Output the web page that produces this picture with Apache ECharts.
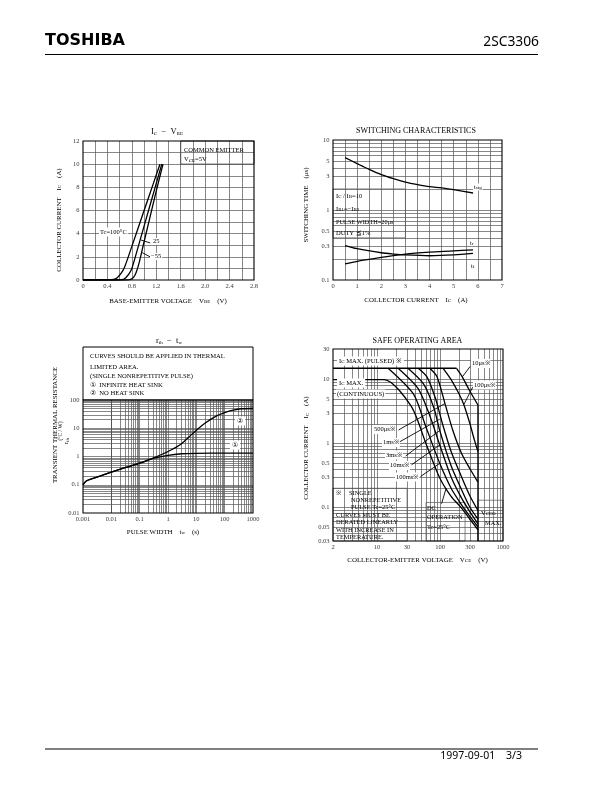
<!DOCTYPE html>
<html><head><meta charset="utf-8">
<script src="https://cdn.jsdelivr.net/npm/echarts@6/dist/echarts.min.js"></script>
<style>html,body{margin:0;padding:0;background:#fff;}#c{width:612px;height:792px;}</style>
</head><body><div id="c"></div>
<script>
// ---------------- DATA ----------------
// Chart 1: IC - VBE (V, A)
const vbeTicks = [0, 0.4, 0.8, 1.2, 1.6, 2.0, 2.4, 2.8];
const icTicks1 = [0, 2, 4, 6, 8, 10, 12];
const icvbe_100 = [[0,0],[0.4,0.01],[0.5,0.05],[0.56,0.2],[0.62,0.55],[0.68,1.1],[0.8,2.9],[1.0,6.0],[1.15,8.3],[1.26,10]];
const icvbe_25 = [[0,0],[0.55,0],[0.66,0.05],[0.7,0.2],[0.75,0.5],[0.8,1.0],[0.9,2.8],[1.1,6.5],[1.29,10]];
const icvbe_m55 = [[0,0],[0.7,0],[0.78,0.05],[0.83,0.25],[0.87,0.65],[0.92,1.5],[1.0,3.3],[1.1,5.5],[1.2,7.7],[1.31,10]];

// Chart 2: switching characteristics (A, us)
const swXTicks = [0,1,2,3,4,5,6,7];
const swYTicks = [0.1,0.3,0.5,1,3,5,10];
const sw_tstg = [[0.5,5.6],[1,4.6],[1.5,3.8],[2,3.2],[2.5,2.8],[3,2.5],[3.5,2.3],[4,2.15],[4.5,2.07],[5,1.95],[5.8,1.75]];
const sw_tr = [[0.5,0.17],[1,0.185],[2,0.21],[3,0.235],[4,0.25],[5,0.26],[5.8,0.27]];
const sw_tf = [[0.5,0.31],[1,0.28],[2,0.245],[2.5,0.235],[3,0.228],[4,0.222],[5,0.228],[5.8,0.24]];

// Chart 3: rth - tw (s, degC/W)
const twTicks = [0.001,0.01,0.1,1,10,100,1000];
const rthTicks = [0.01,0.1,1,10,100];
const rth_inf = [[0.001,0.1],[0.0013,0.135],[0.002,0.16],[0.005,0.22],[0.01,0.28],[0.03,0.4],[0.1,0.58],[0.3,0.85],[1,1.1],[3,1.25],[10,1.3],[100,1.32],[1000,1.32]];
const rth_no = [[0.001,0.1],[0.0013,0.135],[0.002,0.16],[0.005,0.22],[0.01,0.28],[0.03,0.4],[0.1,0.58],[0.3,0.88],[1,1.5],[2.5,2.5],[5,4.5],[10,8.5],[20,15],[50,27],[100,36],[200,44],[400,49],[1000,50]];

// Chart 4: safe operating area (V, A)
const vceTicks = [2,10,30,100,300,1000];
const icTicks4 = [0.03,0.05,0.1,0.3,0.5,1,3,5,10,30];
const soa_pulsedMax = [[2,15],[183,15]];
const soa_10us = [[183,15],[220,11.5],[300,6.5],[400,4]];
const soa_100us = [[112,15],[150,10],[200,6],[240,4],[300,2],[350,1.15],[400,0.75]];
const soa_500us = [[69,15],[90,11],[120,4.2],[160,1.6],[220,0.7],[300,0.4],[400,0.25]];
const soa_1ms = [[45,15],[62,11],[85,5],[110,2],[150,0.75],[220,0.3],[300,0.15],[400,0.09]];
const soa_3ms = [[31,15],[55,8.5],[80,3.6],[99,1.6],[150,0.45],[220,0.19],[300,0.1],[400,0.066]];
const soa_10ms = [[21.6,15],[45,7.2],[70,2.6],[99,0.95],[150,0.3],[220,0.14],[300,0.085],[400,0.056]];
const soa_100ms = [[15,15],[38,5.9],[60,1.8],[99,0.49],[150,0.2],[220,0.11],[300,0.072],[400,0.05]];
const soa_dc = [[2,10],[13,10],[35,3.8],[61,0.95],[99,0.29],[150,0.15],[220,0.098],[300,0.065],[400,0.045]];
const soa_vceo = [[400,4],[400,0.03]];

// ---------------- HELPERS ----------------
const SERIF = '"Liberation Serif","DejaVu Serif",serif';
const GRIDC = '#555';
const RICH = {
  s: {fontSize: 5, verticalAlign: 'bottom', fontFamily: SERIF}
};
function linVals(min, max, step) { const o = []; for (let v = min + step; v < max - 1e-9; v += step) o.push(+v.toFixed(6)); return o; }
function logVals(min, max) {
  const o = [];
  for (let e = -4; e <= 4; e++) for (let k = 1; k < 10; k++) {
    const v = +(k * Math.pow(10, e)).toPrecision(6);
    if (v > min * 1.0001 && v < max * 0.9999) o.push(v);
  }
  return o;
}
const series = [];
const graphics = [];
function gridLines(gi, xs, ys, x0, y0) {
  series.push({type: 'line', xAxisIndex: gi, yAxisIndex: gi, data: [[x0, y0]], showSymbol: false,
    lineStyle: {opacity: 0}, silent: true, z: 1, animation: false,
    markLine: {silent: true, symbol: 'none', animation: false, label: {show: false},
      lineStyle: {color: GRIDC, width: 0.7, type: 'solid'},
      data: [...xs.map(v => ({xAxis: v})), ...ys.map(v => ({yAxis: v}))]}});
}
function boxes(gi, areas, x0, y0, border) {
  series.push({type: 'line', xAxisIndex: gi, yAxisIndex: gi, data: [[x0, y0]], showSymbol: false,
    lineStyle: {opacity: 0}, silent: true, z: 5, animation: false,
    markArea: {silent: true, animation: false, label: {show: false},
      itemStyle: {color: '#fff', opacity: 1, borderColor: border || GRIDC, borderWidth: 0.7},
      data: areas.map(a => [{xAxis: a[0], yAxis: a[1]}, {xAxis: a[2], yAxis: a[3]}])}});
}
function curve(gi, data, smooth) {
  series.push({type: 'line', xAxisIndex: gi, yAxisIndex: gi, data, showSymbol: false, silent: true,
    smooth: smooth === undefined ? 0.3 : smooth, z: 10, animation: false,
    lineStyle: {color: '#000', width: 1.3}});
}
function leaders(gi, segs, x0, y0) {
  series.push({type: 'line', xAxisIndex: gi, yAxisIndex: gi, data: [[x0, y0]], showSymbol: false,
    lineStyle: {opacity: 0}, silent: true, z: 10, animation: false,
    markLine: {silent: true, symbol: 'none', animation: false, label: {show: false},
      lineStyle: {color: '#000', width: 0.9, type: 'solid'},
      data: segs.map(s => [{coord: s[0]}, {coord: s[1]}])}});
}
function tickLabels(gi, items, pos) {
  series.push({type: 'scatter', xAxisIndex: gi, yAxisIndex: gi, symbolSize: 1, silent: true, clip: false,
    z: 12, animation: false, itemStyle: {color: 'rgba(0,0,0,0)'},
    label: {show: true, position: pos, distance: pos === 'left' ? 3 : 2, formatter: '{b}',
      fontFamily: SERIF, fontSize: 6.5, color: '#000'},
    data: items});
}
function fmt(v) { return String(v); }
function txt(x, y, text, o) {
  o = o || {};
  graphics.push({type: 'text', x, y, z: 20, silent: true, rotation: o.rot || 0,
    style: {text, fill: '#000', fontSize: o.size || 7, fontFamily: o.family || SERIF,
      fontWeight: o.weight || 'normal', align: o.align || 'left', verticalAlign: o.valign || 'middle',
      rich: RICH, backgroundColor: o.bg, padding: o.pad}});
}
function line(x1, y1, x2, y2, w) {
  graphics.push({type: 'line', z: 20, silent: true, shape: {x1, y1, x2, y2}, style: {stroke: '#000', lineWidth: w || 1}});
}
const AT = 6.9; // axis title font size

// ---------------- GRIDS / AXES ----------------
const G = [
  {left: 83, top: 141, width: 171, height: 139},
  {left: 333, top: 140, width: 169, height: 140},
  {left: 83, top: 400, width: 170, height: 113},
  {left: 333, top: 349, width: 170, height: 192}
];
const hidden = {axisLine: {show: false}, axisTick: {show: false}, axisLabel: {show: false}, splitLine: {show: false}};
const xAxes = [
  Object.assign({type: 'value', gridIndex: 0, min: 0, max: 2.8}, hidden),
  Object.assign({type: 'value', gridIndex: 1, min: 0, max: 7}, hidden),
  Object.assign({type: 'log', gridIndex: 2, min: 0.001, max: 1000, logBase: 10}, hidden),
  Object.assign({type: 'log', gridIndex: 3, min: 2, max: 1000, logBase: 10}, hidden)
];
const yAxes = [
  Object.assign({type: 'value', gridIndex: 0, min: 0, max: 12}, hidden),
  Object.assign({type: 'log', gridIndex: 1, min: 0.1, max: 10, logBase: 10}, hidden),
  Object.assign({type: 'log', gridIndex: 2, min: 0.01, max: 100, logBase: 10}, hidden),
  Object.assign({type: 'log', gridIndex: 3, min: 0.03, max: 30, logBase: 10}, hidden)
];

// ----- chart 1 -----
gridLines(0, linVals(0, 2.8, 0.2), linVals(0, 12, 1), 0, 0);
boxes(0, [[1.6, 10, 2.8, 12]], 0, 0, '#000');
curve(0, icvbe_100); curve(0, icvbe_25); curve(0, icvbe_m55);
leaders(0, [[[0.95, 3.45], [1.1, 3.2]], [[0.97, 2.36], [1.1, 2.0]]], 0, 0);
tickLabels(0, vbeTicks.map(v => ({name: v === 0 ? '0' : v.toFixed(1), value: [v, 0]})), 'bottom');
tickLabels(0, icTicks1.map(v => ({name: fmt(v), value: [0, v]})), 'left');

// ----- chart 2 -----
gridLines(1, linVals(0, 7, 0.5), logVals(0.1, 10), 0, 1);
boxes(1, [[0, 0.4, 3, 2]], 0, 1, GRIDC);
curve(1, sw_tstg); curve(1, sw_tr); curve(1, sw_tf);
tickLabels(1, swXTicks.map(v => ({name: fmt(v), value: [v, 0.1]})), 'bottom');
tickLabels(1, swYTicks.map(v => ({name: fmt(v), value: [0, v]})), 'left');

// ----- chart 3 -----
gridLines(2, logVals(0.001, 1000), logVals(0.01, 100), 1, 1);
curve(2, rth_no); curve(2, rth_inf);
tickLabels(2, twTicks.map(v => ({name: fmt(v), value: [v, 0.01]})), 'bottom');
tickLabels(2, rthTicks.map(v => ({name: fmt(v), value: [0.001, v]})), 'left');

// ----- chart 4 -----
gridLines(3, logVals(2, 1000), logVals(0.03, 30), 10, 1);
boxes(3, [[2, 0.03, 30, 0.2], [60, 0.03, 250, 0.12], [400, 0.03, 1000, 0.13]], 10, 1, GRIDC);
curve(3, soa_pulsedMax, false);
curve(3, soa_10us, 0.2); curve(3, soa_100us, 0.25); curve(3, soa_500us, 0.25); curve(3, soa_1ms, 0.25);
curve(3, soa_3ms, 0.25); curve(3, soa_10ms, 0.25); curve(3, soa_100ms, 0.25); curve(3, soa_dc, 0.25);
curve(3, soa_vceo, false);
leaders(3, [
  [[300, 16], [228, 11.1]], [[330, 7.6], [240, 4.1]],
  [[22, 1.63], [119, 4.2]], [[20.5, 1.0], [99, 2.4]], [[28.6, 0.64], [99, 1.6]],
  [[35.3, 0.465], [99, 0.95]], [[49, 0.305], [99, 0.49]], [[106, 0.115], [125, 0.2]]
], 10, 1);
tickLabels(3, vceTicks.map(v => ({name: fmt(v), value: [v, 0.03]})), 'bottom');
tickLabels(3, icTicks4.map(v => ({name: fmt(v), value: [2, v]})), 'left');

// ---------------- TEXTS ----------------
// header / footer
txt(45, 41, 'TOSHIBA', {family: '"DejaVu Sans",sans-serif', weight: 'bold', size: 16});
txt(539, 42, '2SC3306', {family: '"Noto Sans",sans-serif', size: 13.8, align: 'right'});
line(45, 54.5, 538, 54.5, 1.2);
line(45, 749, 538, 749, 1);
txt(522, 756, '1997-09-01    3/3', {family: '"Noto Sans",sans-serif', size: 10.5, align: 'right'});

// chart 1
txt(167, 132, 'I{s|C}  −  V{s|BE}', {size: 8.5, align: 'center'});
txt(168, 301, 'BASE-EMITTER VOLTAGE    V{s|BE}    (V)', {size: AT, align: 'center'});
txt(59, 220, 'COLLECTOR CURRENT    I{s|C}    (A)', {size: AT, align: 'center', rot: Math.PI / 2});
txt(184, 150, 'COMMON EMITTER', {size: 6.5});
txt(184, 159.5, 'V{s|CE}=5V', {size: 6.5});
txt(99, 232, 'Tc=100°C', {size: 6.5, bg: '#fff', pad: [1, 1]});
txt(152, 241.5, '25', {size: 6.5, bg: '#fff', pad: [0, 1]});
txt(150, 256.5, '−55', {size: 6.5, bg: '#fff', pad: [0, 1]});

// chart 2
txt(416, 131, 'SWITCHING CHARACTERISTICS', {size: 8, align: 'center'});
txt(416, 300, 'COLLECTOR CURRENT    I{s|C}    (A)', {size: AT, align: 'center'});
txt(306.5, 205, 'SWITCHING TIME    (μs)', {size: AT, align: 'center', rot: Math.PI / 2});
txt(336, 196, 'I{s|C} / I{s|B}=10', {size: 6.5});
txt(336, 209, 'I{s|B1}=−I{s|B2}', {size: 6.5});
txt(336, 222, 'PULSE WIDTH=20μs', {size: 6.3});
txt(336, 233.5, 'DUTY ≦1%', {size: 6.5});
txt(473, 187, 't{s|stg}', {size: 6.5, bg: '#fff', pad: [0, 1]});
txt(470, 243, 't{s|r}', {size: 6.5});
txt(471, 266, 't{s|f}', {size: 6.5});

// chart 3
txt(169, 340.5, 'r{s|th}  −  t{s|w}', {size: 8.5, align: 'center'});
txt(163, 532, 'PULSE WIDTH    t{s|w}    (s)', {size: AT, align: 'center'});
txt(55, 425, 'TRANSIENT THERMAL RESISTANCE', {size: AT, align: 'center', rot: Math.PI / 2});
txt(61, 431, '(°C / W)', {size: 5.5, align: 'center', rot: Math.PI / 2});
txt(66.5, 441, 'r{s|th}', {size: 6.5, align: 'center', rot: Math.PI / 2});
graphics.push({type: 'rect', z: 6, silent: true, shape: {x: 83, y: 347, width: 170, height: 53}, style: {fill: '#fff', stroke: '#000', lineWidth: 1}});
txt(90, 356.5, 'CURVES SHOULD BE APPLIED IN THERMAL', {size: 6.6});
txt(90, 367.5, 'LIMITED AREA.', {size: 6.6});
txt(90, 376.5, '(SINGLE NONREPETITIVE PULSE)', {size: 6.6});
txt(90, 385, '①  INFINITE HEAT SINK', {size: 6.6});
txt(90, 393, '②  NO HEAT SINK', {size: 6.6});
txt(235, 445, '①', {size: 7, align: 'center', bg: '#fff', pad: [1, 2]});
txt(240, 421, '②', {size: 7, align: 'center', bg: '#fff', pad: [1, 2]});

// chart 4
txt(417.5, 341, 'SAFE OPERATING AREA', {size: 8, align: 'center'});
txt(417.5, 560, 'COLLECTOR-EMITTER VOLTAGE    V{s|CE}    (V)', {size: AT, align: 'center'});
txt(306.5, 448, 'COLLECTOR CURRENT    I{s|C}    (A)', {size: AT, align: 'center', rot: Math.PI / 2});
txt(337, 361, 'I{s|C} MAX. (PULSED) ※', {size: 6.6, bg: '#fff', pad: [1, 2]});
txt(337, 383, 'I{s|C} MAX.', {size: 6.6, bg: '#fff', pad: [1, 2]});
txt(336, 394, '(CONTINUOUS)', {size: 6.6, bg: '#fff', pad: [1, 1]});
txt(471, 363.5, '10μs※', {size: 6.5, bg: '#fff', pad: [1, 1]});
txt(473, 385, '100μs※', {size: 6.5, bg: '#fff', pad: [1, 1]});
txt(373, 429.5, '500μs※', {size: 6.5, bg: '#fff', pad: [1, 1]});
txt(382, 442.5, '1ms※', {size: 6.5, bg: '#fff', pad: [1, 1]});
txt(385, 455, '3ms※', {size: 6.5, bg: '#fff', pad: [1, 1]});
txt(389, 465.5, '10ms※', {size: 6.5, bg: '#fff', pad: [1, 1]});
txt(395, 477, '100ms※', {size: 6.5, bg: '#fff', pad: [1, 1]});
txt(336, 493.5, '※     SINGLE', {size: 6.4});
txt(351, 500.5, 'NONREPETITIVE', {size: 6.4});
txt(351, 507.5, 'PULSE Tc=25°C', {size: 6.4});
txt(336, 515, 'CURVES MUST BE', {size: 6.4});
txt(336, 522.5, 'DERATED LINEARLY', {size: 6.4});
txt(336, 530, 'WITH INCREASE IN', {size: 6.4});
txt(336, 537, 'TEMPERATURE.', {size: 6.4});
txt(427, 508.5, 'DC', {size: 6.4});
txt(427, 517.5, 'OPERATION', {size: 6.4});
txt(427, 527, 'Tc=25°C', {size: 6.4});
txt(481, 513, 'V{s|CEO}', {size: 6.5});
txt(485, 523, 'MAX.', {size: 6.4});

// ---------------- RENDER ----------------
const chart = echarts.init(document.getElementById('c'), null, {renderer: 'canvas', width: 612, height: 792});
chart.setOption({
  animation: false,
  backgroundColor: '#fff',
  grid: G.map(g => Object.assign({show: true, borderColor: '#000', borderWidth: 1.1, backgroundColor: 'transparent', z: 15}, g)),
  xAxis: xAxes,
  yAxis: yAxes,
  series,
  graphic: {elements: graphics}
});
</script>
</body></html>
